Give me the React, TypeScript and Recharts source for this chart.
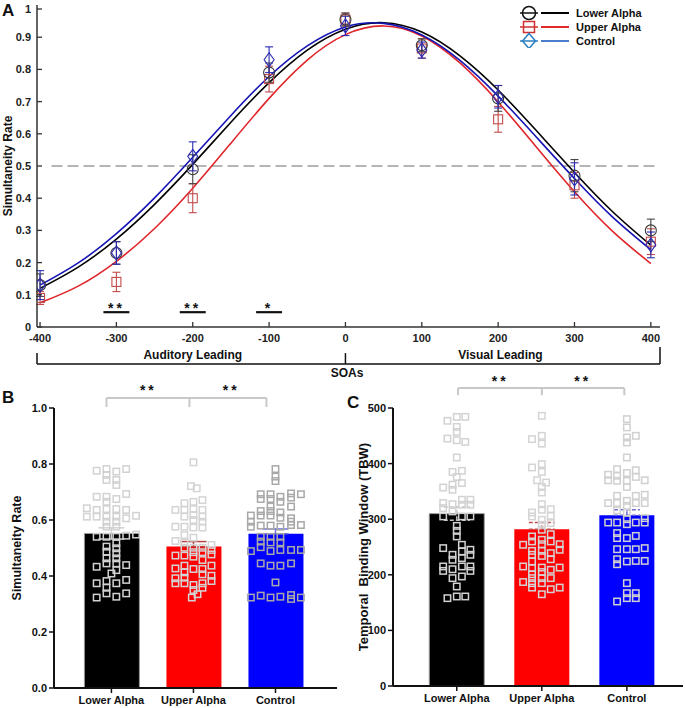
import {
  Bar, Cell, ComposedChart, ErrorBar, Legend, Line, ReferenceDot, ReferenceLine, Scatter, XAxis, YAxis,
} from 'recharts';

const FONT = "'Liberation Sans', Arial, Helvetica, sans-serif";

// ---- panel A: simultaneity rate per SOA (mean +- sem) ----
const soas = [-400, -300, -200, -100, 0, 100, 200, 300, 400];
const lowerRate = [0.13, 0.23, 0.49, 0.79, 0.955, 0.875, 0.71, 0.47, 0.3];
const lowerErr = [0.035, 0.035, 0.045, 0.03, 0.02, 0.02, 0.04, 0.05, 0.035];
const upperRate = [0.09, 0.14, 0.4, 0.77, 0.955, 0.865, 0.645, 0.44, 0.265];
const upperErr = [0.02, 0.03, 0.045, 0.04, 0.02, 0.03, 0.04, 0.04, 0.04];
const controlRate = [0.13, 0.23, 0.53, 0.83, 0.935, 0.86, 0.715, 0.46, 0.255];
const controlErr = [0.045, 0.035, 0.045, 0.04, 0.03, 0.025, 0.035, 0.05, 0.04];

// fitted curves, every 50 ms
const fitSoas = [-400, -350, -300, -250, -200, -150, -100, -50, 0, 50, 100, 150, 200, 250, 300, 350, 400];
const lowerFit = [0.12, 0.186, 0.273, 0.381, 0.505, 0.636, 0.759, 0.86, 0.925, 0.945, 0.916, 0.842, 0.736, 0.61, 0.48, 0.358, 0.254];
const upperFit = [0.075, 0.127, 0.204, 0.306, 0.431, 0.571, 0.71, 0.829, 0.908, 0.935, 0.904, 0.82, 0.699, 0.559, 0.42, 0.297, 0.197];
const controlFit = [0.13, 0.199, 0.29, 0.401, 0.527, 0.657, 0.778, 0.873, 0.932, 0.943, 0.907, 0.828, 0.717, 0.59, 0.461, 0.341, 0.24];

const sigSoas = [-300, -200, -100];
const sigMarks = ['**', '**', '*'];

// ---- panels B and C ----
const groups = ['Lower Alpha', 'Upper Alpha', 'Control'];
const rateMean = [0.552, 0.505, 0.551];
const rateSem = [0.02, 0.018, 0.017];
const tbwMean = [310, 282, 307];
const tbwSem = [12, 12, 10];

// individual subjects: [jitter, value]
const lowerRatePts = [
  [-0.18, 0.776], [-0.06, 0.782], [0.06, 0.773], [0.18, 0.782],
  [-0.06, 0.761], [-0.06, 0.743], [0.06, 0.743], [0.06, 0.725],
  [-0.18, 0.683], [-0.06, 0.683], [-0.06, 0.665], [0.06, 0.675], [0.18, 0.693],
  [-0.3, 0.642], [-0.18, 0.636], [-0.06, 0.639], [0.06, 0.639], [0.18, 0.636],
  [-0.3, 0.612], [-0.18, 0.612], [-0.06, 0.612], [0.06, 0.612], [0.18, 0.606], [0.3, 0.615],
  [-0.06, 0.594], [0.06, 0.594], [-0.06, 0.576], [0.06, 0.576],
  [-0.18, 0.54], [-0.06, 0.54], [0.06, 0.54], [0.18, 0.544], [0.3, 0.548],
  [0.06, 0.517], [-0.06, 0.505], [0.06, 0.499], [-0.06, 0.487], [0.06, 0.481], [-0.06, 0.463], [0.06, 0.463], [0.06, 0.445],
  [-0.18, 0.433], [-0.06, 0.445], [0.18, 0.439], [0.06, 0.421], [0, 0.409],
  [-0.18, 0.374], [-0.06, 0.382], [0.06, 0.374], [0.18, 0.386], [-0.06, 0.358], [-0.06, 0.338], [-0.18, 0.323], [0.06, 0.326], [0.18, 0.338],
];
const upperRatePts = [
  [0, 0.806], [-0.03, 0.721], [0.04, 0.713],
  [-0.11, 0.66], [0, 0.665], [0.11, 0.671],
  [-0.22, 0.636], [-0.11, 0.636], [0, 0.639], [0.11, 0.636],
  [-0.11, 0.612], [0, 0.618], [0, 0.6], [0.11, 0.612], [0.11, 0.594],
  [-0.22, 0.576], [-0.11, 0.576], [0, 0.573], [0.11, 0.573],
  [-0.11, 0.546], [-0.22, 0.525], [-0.11, 0.52], [0, 0.537],
  [-0.11, 0.501], [0, 0.501], [0.11, 0.501], [0.22, 0.511],
  [0, 0.485], [0.11, 0.485], [0.22, 0.493], [0.22, 0.477],
  [-0.22, 0.473], [-0.11, 0.473], [0, 0.469], [0.11, 0.457],
  [-0.22, 0.427], [-0.11, 0.437], [-0.11, 0.413], [0, 0.425], [0.11, 0.425], [0.22, 0.437],
  [0.11, 0.406], [0.22, 0.401],
  [-0.22, 0.392], [-0.22, 0.374], [-0.11, 0.394], [-0.11, 0.374], [0.11, 0.374], [0.22, 0.382],
  [0, 0.368], [0, 0.35], [0.11, 0.358], [0.05, 0.335], [-0.02, 0.323],
];
const controlRatePts = [
  [0, 0.782], [0, 0.755], [0, 0.739],
  [-0.18, 0.692], [-0.06, 0.692], [0.06, 0.683], [0.19, 0.695], [0.31, 0.692],
  [-0.18, 0.675], [-0.06, 0.675], [0.06, 0.665], [0.19, 0.68],
  [-0.06, 0.648], [0.19, 0.648],
  [-0.18, 0.632], [-0.06, 0.632], [0.06, 0.627],
  [-0.3, 0.616], [-0.18, 0.616], [-0.06, 0.616], [0.06, 0.608], [0.19, 0.606], [0.19, 0.594],
  [-0.3, 0.594], [-0.3, 0.576], [-0.18, 0.58], [-0.06, 0.58], [0.06, 0.576], [0.19, 0.582], [0.31, 0.582],
  [-0.18, 0.54], [-0.06, 0.54], [0.06, 0.54],
  [-0.18, 0.523], [-0.06, 0.52], [0.06, 0.52],
  [-0.18, 0.503],
  [-0.3, 0.489], [-0.06, 0.489], [0.06, 0.493], [0.19, 0.493], [0.31, 0.493],
  [-0.18, 0.445], [-0.06, 0.437], [0.06, 0.437], [0.19, 0.445],
  [0, 0.377],
  [-0.3, 0.323], [-0.18, 0.33], [-0.06, 0.323], [0.06, 0.326], [0.19, 0.332], [0.19, 0.318], [0.31, 0.323],
];
const lowerTbwPts = [
  [-0.11, 477], [0, 484], [0.1, 484], [0, 466], [0, 457],
  [-0.11, 445], [0, 442], [0.1, 439], [0, 411],
  [-0.05, 385], [0.06, 387], [0, 376],
  [-0.16, 357], [-0.05, 362], [-0.05, 353], [0.06, 365],
  [-0.16, 329], [-0.05, 327], [0.06, 335], [0.06, 326], [0.16, 335], [0.16, 326],
  [-0.16, 320], [-0.05, 314],
  [-0.16, 305], [0.06, 305], [0.16, 305],
  [0, 288], [0, 279], [0, 269],
  [-0.16, 248], [0.06, 254], [0.06, 242], [0.16, 245], [0.16, 236], [-0.05, 236], [-0.05, 227], [0.06, 230],
  [-0.16, 215], [-0.16, 207], [-0.05, 210], [0.06, 215], [0.16, 215], [0.16, 207],
  [-0.05, 194], [0.06, 197], [0, 179],
  [-0.11, 158], [0, 161], [0.1, 161],
];
const upperTbwPts = [
  [0, 486], [-0.115, 444], [0, 450], [0, 436],
  [-0.115, 393], [0, 399], [0, 385],
  [-0.055, 370], [0.05, 366], [0, 358], [0, 348],
  [0, 327], [0, 317], [-0.115, 312], [-0.115, 305], [0.105, 318], [0.105, 306],
  [0, 299], [0.105, 293], [0, 290],
  [0, 281], [-0.115, 269], [-0.115, 260], [0, 263], [0, 255], [0.105, 273], [0.105, 260], [0.21, 255], [0.21, 245], [-0.22, 254],
  [-0.115, 243], [-0.115, 236], [0, 243], [0, 234], [0.105, 239], [0.105, 228],
  [-0.115, 224], [-0.22, 215], [0, 213], [0, 205], [0.105, 209], [0.21, 213], [-0.115, 212], [-0.115, 201],
  [-0.115, 194], [0, 194], [0.105, 194], [-0.22, 187], [-0.115, 185], [0, 185],
  [-0.115, 177], [0.105, 174], [0.21, 177], [0, 165],
];
const controlTbwPts = [
  [0, 480], [0, 465], [0, 447], [0.105, 450], [0, 438], [0, 411],
  [-0.115, 390], [0.105, 388], [-0.22, 380], [-0.22, 370], [-0.115, 378], [-0.115, 369],
  [0, 383], [0, 369], [0, 358], [0.105, 376], [0.21, 370],
  [-0.115, 342], [0.105, 342], [0.21, 344], [-0.22, 329], [-0.115, 329], [0, 333], [0, 324], [0.105, 329], [0.21, 329],
  [-0.115, 316], [0, 312],
  [-0.22, 294], [-0.115, 294], [0, 300], [0, 291], [0.105, 294], [0.21, 302], [0.21, 294],
  [-0.115, 275], [-0.115, 266], [0, 266], [0.105, 270],
  [-0.115, 246], [0, 246], [0.105, 246], [0.21, 248],
  [-0.115, 228], [-0.115, 219], [0, 224], [0.105, 225], [0.21, 225],
  [0, 185],
  [-0.115, 152], [0, 167], [0, 158], [0.105, 167], [0.105, 158],
];

const barColors = ['#000000', '#ff0000', '#0000ff'];

function XTickIn(props: any) {
  const { x, y, payload } = props;
  return (
    <g>
      <line x1={x} y1={y} x2={x} y2={y - 5} stroke="#333" strokeWidth={1.3} />
      <text x={x} y={y + 15} textAnchor="middle" fontSize={11} fontWeight="bold" fill="#222">{payload.value}</text>
    </g>
  );
}

function YTickIn(props: any) {
  const { x, y, payload } = props;
  return (
    <g>
      <line x1={x} y1={y} x2={x + 5} y2={y} stroke="#333" strokeWidth={1.3} />
      <text x={x - 6} y={y + 4} textAnchor="end" fontSize={11} fontWeight="bold" fill="#222">{payload.value}</text>
    </g>
  );
}

const circleShape = (p: any) => <circle cx={p.cx} cy={p.cy} r={5.5} fill="none" stroke="#3a3a3a" strokeWidth={1.1} />;
const squareShape = (p: any) => <rect x={p.cx - 4.5} y={p.cy - 4.5} width={9} height={9} fill="none" stroke="#c24b4b" strokeWidth={1.1} />;
const diamondShape = (p: any) => (
  <polygon points={`${p.cx},${p.cy - 7} ${p.cx + 5},${p.cy} ${p.cx},${p.cy + 7} ${p.cx - 5},${p.cy}`} fill="none" stroke="#2b2bb0" strokeWidth={1.1} />
);
const noShape = () => <g />;
const subjShape = (color: string) => (p: any) => (
  <rect x={p.cx - 3.2} y={p.cy - 3.2} width={6.4} height={6.4} fill="none" stroke={color} strokeWidth={1.5} />
);

function LegendA() {
  const rows = [
    { marker: 'circle', mc: '#111', lc: '#000' },
    { marker: 'square', mc: '#d03030', lc: '#e02a2a' },
    { marker: 'diamond', mc: '#2a7fc0', lc: '#4a7fd0' },
  ];
  return (
    <svg width={170} height={48}>
      {rows.map((r, i) => {
        const y = 13 + i * 14;
        return (
          <g key={i}>
            <line x1={5} y1={y} x2={23} y2={y} stroke={r.mc} strokeWidth={1.5} />
            {r.marker === 'circle' && <circle cx={14} cy={y} r={6.5} fill="none" stroke={r.mc} strokeWidth={1.5} />}
            {r.marker === 'square' && <rect x={8.5} y={y - 5.5} width={11} height={11} fill="none" stroke={r.mc} strokeWidth={1.5} />}
            {r.marker === 'diamond' && (
              <polygon points={`14,${y - 7.5} 20.5,${y} 14,${y + 7.5} 7.5,${y}`} fill="none" stroke={r.mc} strokeWidth={1.5} />
            )}
            <line x1={26} y1={y} x2={54} y2={y} stroke={r.lc} strokeWidth={2} />
            <text x={61} y={y + 4} fontSize={11} fontWeight="bold" fill="#111">{groups[i]}</text>
          </g>
        );
      })}
    </svg>
  );
}

function PanelA() {
  const pts = (ys: number[], es: number[]) => soas.map((x, i) => ({ x, y: ys[i], e: es[i] }));
  const fit = (ys: number[]) => fitSoas.map((x, i) => ({ x, y: ys[i] }));
  const textLbl = (value: string, size = 12) => ({ value, position: 'center' as const, fill: '#111', fontSize: size, fontWeight: 'bold' });
  return (
    <ComposedChart width={685} height={385} margin={{ top: 5, right: 25, bottom: 38, left: 7 }}>
      <XAxis type="number" dataKey="x" domain={[-404, 412]} ticks={soas} allowDataOverflow height={20}
        tick={<XTickIn />} tickSize={0} tickMargin={0} tickLine={false} axisLine={{ stroke: '#333', strokeWidth: 1.5 }} />
      <YAxis type="number" domain={[0, 1]} ticks={[0, 0.1, 0.2, 0.3, 0.4, 0.5, 0.6, 0.7, 0.8, 0.9, 1]} allowDataOverflow width={30}
        tick={<YTickIn />} tickSize={0} tickMargin={0} tickLine={false} axisLine={{ stroke: '#333', strokeWidth: 1.5 }}
        label={{ value: 'Simultaneity Rate', angle: -90, position: 'insideLeft', offset: 1, fill: '#111', fontSize: 12, fontWeight: 'bold', style: { textAnchor: 'middle' } }} />
      <ReferenceLine segment={[{ x: -385, y: 0.5 }, { x: 405, y: 0.5 }]} stroke="#9d9d9d" strokeWidth={1.5} strokeDasharray="11 5" />

      <Line data={fit(upperFit)} dataKey="y" type="natural" stroke="#e0262b" strokeWidth={1.6} dot={false} isAnimationActive={false} />
      <Line data={fit(lowerFit)} dataKey="y" type="natural" stroke="#000" strokeWidth={1.6} dot={false} isAnimationActive={false} />
      <Line data={fit(controlFit)} dataKey="y" type="natural" stroke="#1515b5" strokeWidth={1.6} dot={false} isAnimationActive={false} />

      <Scatter data={pts(upperRate, upperErr)} dataKey="y" shape={squareShape} isAnimationActive={false}>
        <ErrorBar dataKey="e" direction="y" width={4} stroke="#c24b4b" strokeWidth={1.1} />
      </Scatter>
      <Scatter data={pts(lowerRate, lowerErr)} dataKey="y" shape={circleShape} isAnimationActive={false}>
        <ErrorBar dataKey="e" direction="y" width={4} stroke="#444" strokeWidth={1.1} />
      </Scatter>
      <Scatter data={pts(controlRate, controlErr)} dataKey="y" shape={diamondShape} isAnimationActive={false}>
        <ErrorBar dataKey="e" direction="y" width={4} stroke="#2b2bb0" strokeWidth={1.1} />
      </Scatter>

      {sigSoas.map((s, i) => (
        <ReferenceLine key={'sl' + i} segment={[{ x: s - 17, y: 0.046 }, { x: s + 17, y: 0.046 }]} stroke="#111" strokeWidth={2.2} ifOverflow="visible" />
      ))}
      {sigSoas.map((s, i) => (
        <ReferenceDot key={'ss' + i} x={s} y={0.059} r={0} fill="none" stroke="none" ifOverflow="visible"
          label={{ value: sigMarks[i], position: 'center', fill: '#111', fontSize: 14, fontWeight: 'bold', letterSpacing: 3 }} />
      ))}

      <ReferenceLine segment={[{ x: -404, y: -0.115 }, { x: 412, y: -0.115 }]} stroke="#111" strokeWidth={1.5} ifOverflow="visible" />
      <ReferenceLine segment={[{ x: -404, y: -0.081 }, { x: -404, y: -0.115 }]} stroke="#111" strokeWidth={1.5} ifOverflow="visible" />
      <ReferenceLine segment={[{ x: 0, y: -0.081 }, { x: 0, y: -0.115 }]} stroke="#111" strokeWidth={1.5} ifOverflow="visible" />
      <ReferenceLine segment={[{ x: 412, y: -0.062 }, { x: 412, y: -0.115 }]} stroke="#111" strokeWidth={1.5} ifOverflow="visible" />
      <ReferenceDot x={-200} y={-0.087} r={0} fill="none" stroke="none" ifOverflow="visible" label={textLbl('Auditory Leading')} />
      <ReferenceDot x={203} y={-0.087} r={0} fill="none" stroke="none" ifOverflow="visible" label={textLbl('Visual Leading')} />
      <ReferenceDot x={2} y={-0.1413} r={0} fill="none" stroke="none" ifOverflow="visible" label={textLbl('SOAs')} />

      <Legend verticalAlign="middle" align="center" layout="horizontal" content={() => <LegendA />}
        wrapperStyle={{ left: 515, top: 0, width: 170, height: 48 }} />
    </ComposedChart>
  );
}

type GroupProps = {
  width: number;
  height: number;
  margin: { top: number; right: number; bottom: number; left: number };
  xDomain: number[];
  yDomain: number[];
  yTicks: number[];
  fmt: (v: number) => string;
  means: number[];
  sems: number[];
  points: number[][][];
  ptColors: string[];
  errColors: string[];
  dashed: boolean;
  yLabel: string;
  labelSize: number;
  labelOffset: number;
  bracketY: number;
  dropY: number;
  bracketX: number[];
  starX: number[];
  starY: number;
};

function GroupPanel(p: GroupProps) {
  const barData = p.means.map((y, i) => ({ x: i, y }));
  const seg = (x1: number, y1: number, x2: number, y2: number, key: string) => (
    <ReferenceLine key={key} segment={[{ x: x1, y: y1 }, { x: x2, y: y2 }]} stroke="#c8c8c8" strokeWidth={2} ifOverflow="visible" />
  );
  return (
    <ComposedChart width={p.width} height={p.height} margin={p.margin} data={barData}>
      <XAxis type="number" dataKey="x" domain={p.xDomain} ticks={[0, 1, 2]} allowDataOverflow interval={0} height={20}
        tickFormatter={(v: number) => groups[v]} tickSize={5} tickMargin={3}
        axisLine={{ stroke: '#111', strokeWidth: 2 }} tickLine={{ stroke: '#111', strokeWidth: 1.5 }}
        tick={{ fill: '#111', fontSize: 11, fontWeight: 'bold' }} />
      <XAxis xAxisId="bars" type="number" dataKey="x" domain={p.xDomain} ticks={[0, 1, 2]} allowDataOverflow hide />
      <YAxis type="number" domain={p.yDomain} ticks={p.yTicks} allowDataOverflow width={30} tickFormatter={p.fmt}
        tickSize={5} tickMargin={2} axisLine={{ stroke: '#111', strokeWidth: 2 }} tickLine={{ stroke: '#111', strokeWidth: 1.5 }}
        tick={{ fill: '#111', fontSize: 11, fontWeight: 'bold' }}
        label={{ value: p.yLabel, angle: -90, position: 'insideLeft', offset: p.labelOffset, fill: '#111', fontSize: p.labelSize, fontWeight: 'bold', style: { textAnchor: 'middle' } }} />
      <Bar xAxisId="bars" dataKey="y" barSize={55} isAnimationActive={false}>
        {p.means.map((_, i) => <Cell key={i} fill={barColors[i]} stroke={i === 0 ? '#9a9a9a' : 'none'} />)}
      </Bar>
      {p.means.map((m, i) => (
        <Scatter key={'e' + i} data={[{ x: i, y: m, e: i === 0 ? p.sems[i] : [0, p.sems[i]] }]} dataKey="y" shape={noShape} isAnimationActive={false}>
          <ErrorBar dataKey="e" direction="y" width={13} stroke={p.errColors[i]} strokeWidth={1.5} strokeDasharray={p.dashed ? '4 2' : undefined} />
        </Scatter>
      ))}
      {p.points.map((pts, i) => (
        <Scatter key={'p' + i} data={pts.map(([j, v]) => ({ x: i + j, y: v }))} dataKey="y" shape={subjShape(p.ptColors[i])} isAnimationActive={false} />
      ))}
      {seg(p.bracketX[0], p.bracketY, p.bracketX[2], p.bracketY, 'bh')}
      {p.bracketX.map((bx, i) => seg(bx, p.bracketY, bx, p.dropY, 'bv' + i))}
      {p.starX.map((sx, i) => (
        <ReferenceDot key={'st' + i} x={sx} y={p.starY} r={0} fill="none" stroke="none" ifOverflow="visible"
          label={{ value: '**', position: 'center', fill: '#111', fontSize: 14, fontWeight: 'bold', letterSpacing: 3 }} />
      ))}
    </ComposedChart>
  );
}

const letter = (ch: string, left: number, top: number) => (
  <div style={{ position: 'absolute', left, top, fontSize: 17, fontWeight: 'bold', lineHeight: '17px', color: '#111' }}>{ch}</div>
);

export default function App() {
  return (
    <div style={{ position: 'absolute', left: 0, top: 0, width: 685, height: 708, background: '#fff', overflow: 'hidden', fontFamily: FONT }}>
      <div style={{ position: 'absolute', left: 0, top: 0 }}>
        <PanelA />
      </div>
      <div style={{ position: 'absolute', left: 0, top: 360 }}>
        <GroupPanel width={340} height={348} margin={{ top: 48, right: 3, bottom: 0, left: 24 }}
          xDomain={[-0.7, 2.75]} yDomain={[0, 1]} yTicks={[0, 0.2, 0.4, 0.6, 0.8, 1]} fmt={(v) => v.toFixed(1)}
          means={rateMean} sems={rateSem} points={[lowerRatePts, upperRatePts, controlRatePts]}
          ptColors={['#d2d2d2', '#d4d4d4', '#a8a8a8']} errColors={['#cfcfcf', '#b84040', '#7070d0']} dashed={false}
          yLabel="Simultaneity Rate" labelSize={12.5} labelOffset={-7}
          bracketY={1.0357} dropY={1.0036} bracketX={[-0.06, 0.951, 1.89]} starX={[0.45, 1.46]} starY={1.064} />
      </div>
      <div style={{ position: 'absolute', left: 340, top: 360 }}>
        <GroupPanel width={345} height={348} margin={{ top: 48, right: 2, bottom: 2, left: 23 }}
          xDomain={[-0.75, 2.66]} yDomain={[0, 500]} yTicks={[0, 100, 200, 300, 400, 500]} fmt={(v) => String(v)}
          means={tbwMean} sems={tbwSem} points={[lowerTbwPts, upperTbwPts, controlTbwPts]}
          ptColors={['#d2d2d2', '#d4d4d4', '#d0d0d0']} errColors={['#c0c0c0', '#c05050', '#6a6ad0']} dashed
          yLabel={'Temporal\u00a0 Binding Window (TBW)'} labelSize={13} labelOffset={0}
          bracketY={536} dropY={523} bracketX={[0.015, 1.0, 1.97]} starX={[0.51, 1.48]} starY={549} />
      </div>
      {letter('A', 2, 2)}
      {letter('B', 2, 389)}
      {letter('C', 347, 394)}
    </div>
  );
}
